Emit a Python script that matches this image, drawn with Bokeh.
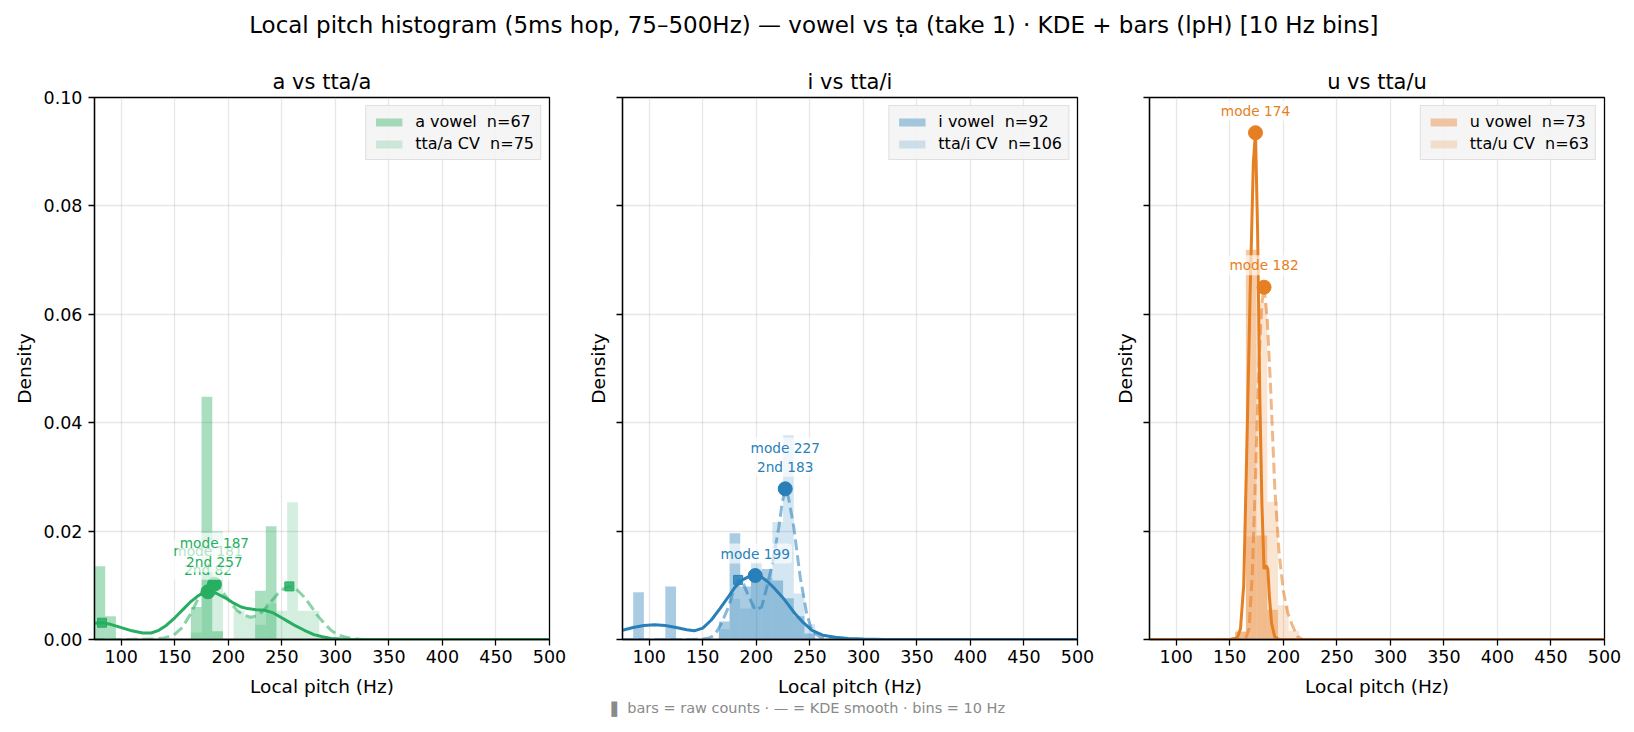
from bokeh.plotting import figure
from bokeh.models import Range1d, FixedTicker, PrintfTickFormatter
from bokeh.layouts import column, row
from bokeh.embed import file_html
from bokeh.resources import INLINE
from bokeh.core.properties import value

FONT = "DejaVu Sans"

# ---------------- text ----------------
title_text = "Local pitch histogram (5ms hop, 75–500Hz) — vowel vs ṭa (take 1) · KDE + bars (lpH)  [10 Hz bins]"
footer_text = "▌ bars = raw counts  ·  — = KDE smooth  ·  bins = 10 Hz"
panel_titles = ["a vs tta/a", "i vs tta/i", "u vs tta/u"]
vowel_labels = ["a vowel  n=67", "i vowel  n=92", "u vowel  n=73"]
cv_labels = ["tta/a CV  n=75", "tta/i CV  n=106", "tta/u CV  n=63"]
colors = ["#27ae60", "#2980b9", "#e67e22"]

x_ticks = [100, 150, 200, 250, 300, 350, 400, 450, 500]
y_ticks = [0.0, 0.02, 0.04, 0.06, 0.08, 0.10]
bin_width = 10

# ---------------- histogram bars (bin left edge, density) ----------------
a_vowel_bins = [75, 85, 165, 175, 185, 225, 235]
a_vowel_dens = [0.0135, 0.0043, 0.0060, 0.0448, 0.0015, 0.0090, 0.0209]
a_cv_bins = [165, 175, 185, 205, 215, 225, 235, 245, 255, 265, 275]
a_cv_dens = [0.0013, 0.0187, 0.0200, 0.0053, 0.0040, 0.0027, 0.0067, 0.0053, 0.0253, 0.0053, 0.0053]

i_vowel_bins = [85, 115, 165, 175, 185, 195, 205, 215, 225, 235, 245]
i_vowel_dens = [0.0087, 0.0098, 0.0033, 0.0196, 0.0098, 0.0120, 0.0130, 0.0109, 0.0076, 0.0043, 0.0011]
i_cv_bins = [165, 175, 185, 195, 205, 215, 225, 235, 245]
i_cv_dens = [0.0019, 0.0075, 0.0057, 0.0142, 0.0113, 0.0217, 0.0377, 0.0085, 0.0028]

u_vowel_bins = [155, 165, 175, 185]
u_vowel_dens = [0.0014, 0.0719, 0.0192, 0.0055]
u_cv_bins = [155, 165, 175, 185, 195, 205]
u_cv_dens = [0.0016, 0.0190, 0.0620, 0.0254, 0.0063, 0.0016]

# ---------------- KDE curves ----------------
a_vowel_kde_x = [75, 82, 90, 100, 110, 120, 128, 135, 142, 150, 158, 165, 172, 178, 181, 186, 190, 198, 205, 212,
                 218, 226, 234, 242, 249, 256, 263, 271, 280, 288, 296, 305, 315, 330, 500]
a_vowel_kde_y = [0.0030, 0.0031, 0.0028, 0.0022, 0.0016, 0.0012, 0.0012, 0.0017, 0.0026, 0.0040, 0.0056, 0.0070,
                 0.0081, 0.0087, 0.0088, 0.0087, 0.0084, 0.0076, 0.0067, 0.0060, 0.0057, 0.0055, 0.0054, 0.0049,
                 0.0041, 0.0033, 0.0025, 0.0017, 0.0009, 0.0005, 0.0002, 0.0001, 0.0, 0.0, 0.0]
a_cv_kde_x = [75, 100, 130, 140, 149, 157, 165, 171, 177, 182, 187, 192, 196, 202, 208, 214, 221, 227, 233, 240,
              246, 252, 257, 263, 271, 277, 283, 290, 296, 302, 308, 315, 325, 500]
a_cv_kde_y = [0.0, 0.0, 0.0001, 0.0003, 0.0008, 0.0022, 0.0048, 0.0072, 0.0092, 0.0100, 0.0102, 0.0096, 0.0084,
              0.0068, 0.0054, 0.0045, 0.0041, 0.0044, 0.0054, 0.0070, 0.0084, 0.0094, 0.0098, 0.0094, 0.0078,
              0.0062, 0.0045, 0.0029, 0.0017, 0.0009, 0.0005, 0.0002, 0.0, 0.0]

i_vowel_kde_x = [75, 85, 95, 105, 115, 125, 135, 142, 150, 158, 166, 174, 180, 186, 193, 199, 205, 211, 217, 224,
                 230, 236, 244, 252, 262, 274, 286, 300, 320, 500]
i_vowel_kde_y = [0.0017, 0.0022, 0.0026, 0.0027, 0.0026, 0.0022, 0.0018, 0.0016, 0.0021, 0.0036, 0.0057, 0.0079,
                 0.0096, 0.0109, 0.0116, 0.0118, 0.0115, 0.0106, 0.0094, 0.0079, 0.0064, 0.0048, 0.0031, 0.0017,
                 0.0008, 0.0004, 0.0002, 0.0001, 0.0, 0.0]
i_cv_kde_x = [75, 140, 150, 156, 161, 167, 174, 179, 183, 188, 193, 199, 205, 210, 215, 221, 224, 227, 230, 235,
              241, 247, 251, 255, 260, 266, 280, 500]
i_cv_kde_y = [0.0, 0.0, 0.0001, 0.0003, 0.0008, 0.0028, 0.0060, 0.0092, 0.0110, 0.0102, 0.0079, 0.0054, 0.0060,
              0.0098, 0.0140, 0.0207, 0.0250, 0.0278, 0.0262, 0.0207, 0.0115, 0.0048, 0.0022, 0.0011, 0.0004,
              0.0001, 0.0, 0.0]

u_vowel_kde_x = [75, 150, 157, 160, 163, 166, 169, 172, 174, 176, 178, 180, 182, 184, 185.5, 187, 189, 192, 196, 500]
u_vowel_kde_y = [0.0, 0.0, 0.0003, 0.0020, 0.0100, 0.0360, 0.0640, 0.0880, 0.0935, 0.0750, 0.0450, 0.0250,
                 0.0130, 0.0136, 0.0130, 0.0080, 0.0030, 0.0005, 0.0, 0.0]
u_cv_kde_x = [75, 160, 165, 168, 171, 174, 177, 180, 182, 185, 188, 192, 196, 200, 204, 208, 213, 218, 500]
u_cv_kde_y = [0.0, 0.0, 0.0003, 0.0020, 0.0120, 0.0300, 0.0500, 0.0620, 0.0650, 0.0590, 0.0470, 0.0280, 0.0160,
              0.0090, 0.0050, 0.0028, 0.0006, 0.0, 0.0]

# ---------------- KDE modes: [pitch Hz, density] (None = absent) ----------------
a_vowel_mode = [181, 0.0088]
a_vowel_second = [82, 0.0031]
a_cv_mode = [187, 0.0102]
a_cv_second = [257, 0.0098]

i_vowel_mode = [199, 0.0118]
i_vowel_second = None
i_cv_mode = [227, 0.0278]
i_cv_second = [183, 0.0110]

u_vowel_mode = [174, 0.0935]
u_vowel_second = None
u_cv_mode = [182, 0.0650]
u_cv_second = None

panels = [
    dict(vb=a_vowel_bins, vd=a_vowel_dens, cb=a_cv_bins, cd=a_cv_dens,
         vkx=a_vowel_kde_x, vky=a_vowel_kde_y, ckx=a_cv_kde_x, cky=a_cv_kde_y,
         vm=a_vowel_mode, vs=a_vowel_second, cm=a_cv_mode, cs=a_cv_second),
    dict(vb=i_vowel_bins, vd=i_vowel_dens, cb=i_cv_bins, cd=i_cv_dens,
         vkx=i_vowel_kde_x, vky=i_vowel_kde_y, ckx=i_cv_kde_x, cky=i_cv_kde_y,
         vm=i_vowel_mode, vs=i_vowel_second, cm=i_cv_mode, cs=i_cv_second),
    dict(vb=u_vowel_bins, vd=u_vowel_dens, cb=u_cv_bins, cd=u_cv_dens,
         vkx=u_vowel_kde_x, vky=u_vowel_kde_y, ckx=u_cv_kde_x, cky=u_cv_kde_y,
         vm=u_vowel_mode, vs=u_vowel_second, cm=u_cv_mode, cs=u_cv_second),
]

borders = [(94, 30), (43, 29), (43, 30)]


def mode_label(mode, second):
    txt = "mode %d" % mode[0]
    if second is not None:
        txt += "\n2nd %d" % second[0]
    return txt


def make_panel(k):
    d = panels[k]
    c = colors[k]
    bl, br = borders[k]
    p = figure(frame_width=455, frame_height=542, min_border_left=bl, min_border_right=br,
               min_border_top=49, min_border_bottom=62,
               x_range=Range1d(75, 500), y_range=Range1d(0, 0.1),
               toolbar_location=None, output_backend="svg", title=panel_titles[k])
    p.title.align = "center"
    p.title.text_font = FONT
    p.title.text_font_size = "21px"
    p.title.text_font_style = "normal"
    p.title.text_color = "black"
    p.title.standoff = 8

    # bars
    p.vbar(x=[b + bin_width / 2 for b in d["vb"]], top=d["vd"], width=bin_width, bottom=0,
           fill_color=c, fill_alpha=0.4, line_color=None, legend_label=vowel_labels[k])
    p.vbar(x=[b + bin_width / 2 for b in d["cb"]], top=d["cd"], width=bin_width, bottom=0,
           fill_color=c, fill_alpha=0.2, line_color=None, legend_label=cv_labels[k])

    # KDE
    p.line(d["vkx"], d["vky"], line_color=c, line_width=3)
    p.line(d["ckx"], d["cky"], line_color=c, line_width=3, line_alpha=0.55, line_dash="11 5")

    # markers
    for m in (d["vm"], d["cm"]):
        p.scatter([m[0]], [m[1]], marker="circle", size=14, fill_color=c, line_color=c)
    for s in (d["vs"], d["cs"]):
        if s is not None:
            p.scatter([s[0]], [s[1]], marker="square", size=9, fill_color=c, line_color=c, fill_alpha=0.85)

    # mode labels
    for m, s in ((d["vm"], d["vs"]), (d["cm"], d["cs"])):
        p.text(x=[m[0]], y=[m[1]], text=[mode_label(m, s)], text_align="center", text_baseline="bottom",
               y_offset=-12, text_color=c, text_font=value(FONT), text_font_size="13.7px",
               background_fill_color="white", background_fill_alpha=0.65, padding=2, border_radius=3)

    # axes
    p.xaxis.ticker = FixedTicker(ticks=x_ticks)
    p.yaxis.ticker = FixedTicker(ticks=y_ticks)
    p.yaxis.formatter = PrintfTickFormatter(format="%.2f")
    p.xaxis.axis_label = "Local pitch (Hz)"
    p.yaxis.axis_label = "Density"
    for ax in (p.xaxis, p.yaxis):
        ax.major_tick_out = 6
        ax.major_tick_in = 0
        ax.minor_tick_out = 0
        ax.minor_tick_in = 0
        ax.axis_line_color = "black"
        ax.axis_line_width = 1.3
        ax.major_tick_line_color = "black"
        ax.major_tick_line_width = 1.3
        ax.major_label_text_font = FONT
        ax.major_label_text_font_size = "17.5px"
        ax.major_label_text_color = "black"
        ax.axis_label_text_font = FONT
        ax.axis_label_text_font_size = "18.5px"
        ax.axis_label_text_font_style = "normal"
        ax.axis_label_text_color = "black"
    p.xaxis.major_label_standoff = 4
    p.xaxis.axis_label_standoff = 10
    p.yaxis.major_label_standoff = 6
    p.yaxis.axis_label_standoff = 6
    if k > 0:
        p.yaxis.major_label_overrides = {t: "" for t in y_ticks}
        p.yaxis.major_label_standoff = 0
        p.yaxis.axis_label_standoff = 8
    p.grid.grid_line_color = "#b0b0b0"
    p.grid.grid_line_alpha = 0.3
    p.grid.grid_line_width = 1.3
    p.outline_line_color = "black"
    p.outline_line_width = 1.3
    p.outline_line_alpha = 1.0
    p.background_fill_color = "white"
    p.border_fill_color = "white"

    lg = p.legend[0]
    lg.location = "top_right"
    lg.label_text_font = FONT
    lg.label_text_font_size = "16px"
    lg.label_text_color = "black"
    lg.glyph_width = 33
    lg.glyph_height = 10
    lg.label_height = 18
    lg.label_standoff = 10
    lg.spacing = 3
    lg.padding = 6
    lg.margin = 8
    lg.background_fill_color = "#f4f4f4"
    lg.background_fill_alpha = 0.9
    lg.border_line_color = "#cccccc"
    lg.border_line_width = 1.2
    return p


figs = [make_panel(k) for k in range(3)]


def text_strip(height, text, size, color, y_frac):
    f = figure(width=1634, height=height, x_range=Range1d(0, 1), y_range=Range1d(0, 1),
               toolbar_location=None, output_backend="svg", x_axis_location=None, y_axis_location=None,
               min_border=0)
    f.grid.visible = False
    f.outline_line_color = None
    f.text(x=[0.5], y=[y_frac], text=[text], text_align="center", text_baseline="middle",
           text_font=value(FONT), text_font_size=size, text_color=color)
    return f


header = text_strip(48, title_text, "23px", "black", 0.48)
footer = text_strip(31, footer_text, "14.5px", "#8a8a8a", 0.78)

layout = column(header, row(*figs), footer)
open("out.html", "w").write(file_html(layout, INLINE))
